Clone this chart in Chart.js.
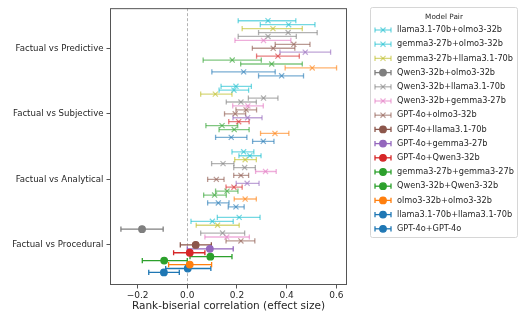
<!DOCTYPE html>
<html lang="en">
<head>
<meta charset="UTF-8">
<title>Rank-biserial correlation by model pair</title>
<style>
  html, body { margin: 0; padding: 0; background: #fff; }
  #wrap { width: 520px; height: 320px; }
</style>
</head>
<body>
<div id="wrap"><canvas id="forest"></canvas></div>
<script src="https://cdn.jsdelivr.net/npm/chart.js@4.4.0/dist/chart.umd.min.js"></script>
<script>
// categories, top to bottom
var categories = ['Factual vs Predictive', 'Factual vs Subjective', 'Factual vs Analytical', 'Factual vs Procedural'];

var pairs = [
  'llama3.1-70b+olmo3-32b', 'gemma3-27b+olmo3-32b', 'gemma3-27b+llama3.1-70b',
  'Qwen3-32b+olmo3-32b', 'Qwen3-32b+llama3.1-70b', 'Qwen3-32b+gemma3-27b',
  'GPT-4o+olmo3-32b', 'GPT-4o+llama3.1-70b', 'GPT-4o+gemma3-27b', 'GPT-4o+Qwen3-32b',
  'gemma3-27b+gemma3-27b', 'Qwen3-32b+Qwen3-32b', 'olmo3-32b+olmo3-32b',
  'llama3.1-70b+llama3.1-70b', 'GPT-4o+GPT-4o'
];

// one row per pair, columns follow categories
var effectSize = [
  [0.325, 0.196, 0.227, 0.209],
  [0.408, 0.188, 0.252, 0.101],
  [0.345, 0.113, 0.233, 0.122],
  [0.406, 0.307, 0.144, -0.182],
  [0.325, 0.216, 0.231, 0.142],
  [0.307, 0.244, 0.315, 0.159],
  [0.429, 0.237, 0.216, 0.216],
  [0.346, 0.193, 0.117, 0.034],
  [0.475, 0.243, 0.241, 0.091],
  [0.365, 0.207, 0.188, 0.010],
  [0.181, 0.140, 0.160, 0.093],
  [0.340, 0.189, 0.110, -0.093],
  [0.503, 0.353, 0.233, 0.010],
  [0.227, 0.177, 0.125, 0.002],
  [0.380, 0.306, 0.196, -0.094]
];
var ciLow = [
  [0.205, 0.136, 0.180, 0.121],
  [0.294, 0.128, 0.208, 0.015],
  [0.221, 0.054, 0.191, 0.036],
  [0.287, 0.246, 0.098, -0.267],
  [0.205, 0.157, 0.187, 0.054],
  [0.192, 0.183, 0.275, 0.071],
  [0.354, 0.196, 0.187, 0.156],
  [0.262, 0.150, 0.082, -0.028],
  [0.373, 0.184, 0.197, 0.000],
  [0.279, 0.167, 0.156, -0.055],
  [0.064, 0.075, 0.114, 0.011],
  [0.215, 0.128, 0.066, -0.181],
  [0.394, 0.295, 0.189, -0.075],
  [0.099, 0.114, 0.082, -0.087],
  [0.287, 0.263, 0.165, -0.155]
];
var ciHigh = [
  [0.437, 0.258, 0.268, 0.293],
  [0.514, 0.247, 0.297, 0.185],
  [0.463, 0.180, 0.278, 0.209],
  [0.523, 0.365, 0.188, -0.097],
  [0.439, 0.278, 0.274, 0.231],
  [0.417, 0.306, 0.358, 0.250],
  [0.494, 0.279, 0.247, 0.272],
  [0.433, 0.235, 0.148, 0.097],
  [0.577, 0.301, 0.289, 0.185],
  [0.451, 0.249, 0.221, 0.071],
  [0.298, 0.203, 0.204, 0.180],
  [0.463, 0.249, 0.157, 0.000],
  [0.601, 0.409, 0.278, 0.098],
  [0.354, 0.240, 0.168, 0.095],
  [0.468, 0.349, 0.229, -0.032]
];
// filled circle marker instead of x
var filled = [
  [false, false, false, false],
  [false, false, false, false],
  [false, false, false, false],
  [false, false, false, true],
  [false, false, false, false],
  [false, false, false, false],
  [false, false, false, false],
  [false, false, false, true],
  [false, false, false, true],
  [false, false, false, true],
  [false, false, false, true],
  [false, false, false, true],
  [false, false, false, true],
  [false, false, false, true],
  [false, false, false, true]
];
var xTicks = [-0.2, 0.0, 0.2, 0.4, 0.6];

var palette = ['#17becf', '#17becf', '#bcbd22', '#7f7f7f', '#7f7f7f', '#e377c2', '#8c564b', '#8c564b',
  '#9467bd', '#d62728', '#2ca02c', '#2ca02c', '#ff7f0e', '#1f77b4', '#1f77b4'];
var FONT = '"DejaVu Sans", sans-serif';
var STEP = 0.06;

function fade(hex, a) {
  var n = parseInt(hex.slice(1), 16);
  return 'rgba(' + (n >> 16) + ',' + ((n >> 8) & 255) + ',' + (n & 255) + ',' + a + ')';
}
function rowY(i, j) {
  return (categories.length - 1 - i) + (7 - j) * STEP;
}
function colorFor(j, i) {
  return filled[j][i] ? palette[j] : fade(palette[j], 0.6);
}

var datasets = [];
pairs.forEach(function (name, j) {
  // error bars, one small line per category
  categories.forEach(function (c, i) {
    var col = colorFor(j, i);
    datasets.push({
      label: name + ' ci',
      showLine: true,
      order: 1,
      data: [{ x: ciLow[j][i], y: rowY(i, j) }, { x: ciHigh[j][i], y: rowY(i, j) }],
      borderColor: col,
      borderWidth: 1.3,
      pointStyle: 'line',
      rotation: 90,
      pointRadius: 2.6,
      pointBorderWidth: 1.3,
      pointBorderColor: col,
      pointBackgroundColor: col
    });
  });
  datasets.push({
    label: name,
    order: 0,
    data: effectSize[j].map(function (v, i) { return { x: v, y: rowY(i, j) }; }),
    pointStyle: function (ctx) { return filled[j][ctx.dataIndex] ? 'circle' : 'crossRot'; },
    pointRadius: function (ctx) { return filled[j][ctx.dataIndex] ? 3.3 : 3.6; },
    pointBorderWidth: 1.2,
    pointBorderColor: function (ctx) { return colorFor(j, ctx.dataIndex); },
    pointBackgroundColor: function (ctx) { return colorFor(j, ctx.dataIndex); }
  });
});

// frame, zero line and the boxed legend on the right
var decor = {
  id: 'decor',
  beforeDatasetsDraw: function (chart) {
    var ctx = chart.ctx, a = chart.chartArea;
    var x0 = Math.round(chart.scales.x.getPixelForValue(0)) + 0.5;
    ctx.save();
    ctx.strokeStyle = '#a0a0a0';
    ctx.lineWidth = 0.8;
    ctx.setLineDash([3, 2]);
    ctx.beginPath();
    ctx.moveTo(x0, a.top);
    ctx.lineTo(x0, a.bottom);
    ctx.stroke();
    ctx.restore();
  },
  afterDraw: function (chart) {
    var ctx = chart.ctx, a = chart.chartArea;
    ctx.save();
    ctx.strokeStyle = '#555';
    ctx.lineWidth = 1;
    ctx.strokeRect(a.left + 0.5, a.top + 0.5, a.right - a.left - 1, a.bottom - a.top - 1);

    var bx = 370.5, by = 7.5, bw = 147, bh = 230;
    ctx.fillStyle = 'rgba(255,255,255,0.8)';
    ctx.strokeStyle = '#d6d6d6';
    ctx.beginPath();
    ctx.roundRect(bx, by, bw, bh, 2);
    ctx.fill();
    ctx.stroke();

    ctx.fillStyle = '#262626';
    ctx.textBaseline = 'middle';
    ctx.textAlign = 'center';
    ctx.font = '7.3px ' + FONT;
    ctx.fillText('Model Pair', bx + bw / 2, 17);

    ctx.textAlign = 'left';
    ctx.font = '8.2px ' + FONT;
    pairs.forEach(function (name, j) {
      var y = 30 + j * 14.2;
      var last = categories.length - 1;
      var col = colorFor(j, last);
      ctx.strokeStyle = col;
      ctx.fillStyle = col;
      ctx.lineWidth = 1.3;
      ctx.beginPath();
      ctx.moveTo(375, y);
      ctx.lineTo(391, y);
      ctx.stroke();
      Chart.helpers.drawPoint(ctx, { pointStyle: 'line', radius: 2.6, rotation: 90, borderWidth: 1.3 }, 375, y);
      Chart.helpers.drawPoint(ctx, { pointStyle: 'line', radius: 2.6, rotation: 90, borderWidth: 1.3 }, 391, y);
      ctx.lineWidth = 1.2;
      if (filled[j][last]) {
        Chart.helpers.drawPoint(ctx, { pointStyle: 'circle', radius: 3.3, borderWidth: 1.2 }, 383, y);
      } else {
        Chart.helpers.drawPoint(ctx, { pointStyle: 'crossRot', radius: 3.6, borderWidth: 1.2 }, 383, y);
      }
      ctx.fillStyle = '#262626';
      ctx.fillText(name, 397, y);
    });
    ctx.restore();
  }
};

window.onload = function () {
  new Chart(document.getElementById('forest').getContext('2d'), {
    type: 'scatter',
    data: { datasets: datasets },
    options: {
      responsive: true,
      maintainAspectRatio: false,
      animation: false,
      layout: { padding: { left: 0, right: 173, top: 6, bottom: 0 } },
      plugins: {
        legend: { display: false },
        tooltip: { enabled: false }
      },
      scales: {
        x: {
          type: 'linear',
          min: -0.311,
          max: 0.643,
          afterFit: function (s) { s.height = 35; },
          afterBuildTicks: function (s) {
            s.ticks = xTicks.map(function (v) { return { value: v }; });
          },
          border: { display: false },
          grid: { drawOnChartArea: false, drawTicks: true, tickLength: 3.5, color: '#555', lineWidth: 1 },
          ticks: {
            padding: 2,
            color: '#262626',
            font: { family: FONT, size: 9 },
            callback: function (v) { return v.toFixed(1).replace('-', '\u2212'); }
          },
          title: {
            display: true,
            text: 'Rank-biserial correlation (effect size)',
            color: '#262626',
            font: { family: FONT, size: 10.5 },
            padding: { top: 0, bottom: 7 }
          }
        },
        y: {
          type: 'linear',
          min: -0.612,
          max: 3.612,
          afterFit: function (s) { s.width = 110; },
          afterBuildTicks: function (s) {
            s.ticks = categories.map(function (c, i) { return { value: i }; });
          },
          border: { display: false },
          grid: { drawOnChartArea: false, drawTicks: true, tickLength: 3.5, color: '#555', lineWidth: 1 },
          ticks: {
            padding: 3,
            color: '#262626',
            font: { family: FONT, size: 8.6 },
            callback: function (v) { return categories[categories.length - 1 - Math.round(v)]; }
          }
        }
      }
    },
    plugins: [decor]
  });
};
</script>
</body>
</html>
